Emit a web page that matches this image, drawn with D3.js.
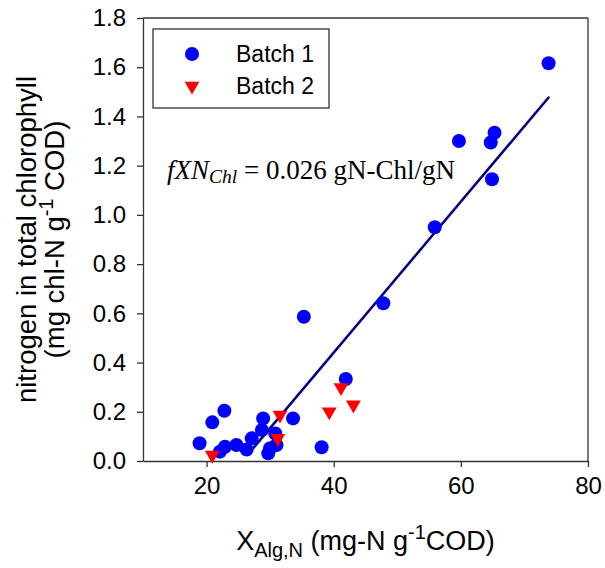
<!DOCTYPE html>
<html><head><meta charset="utf-8">
<script src="https://cdn.jsdelivr.net/npm/d3@7"></script>
<style>body{margin:0;background:#fff}svg{display:block}</style>
</head><body>
<svg id="c" width="605" height="568"></svg>
<script>
// Batch 1 (blue circles)
const batch1X = [73.8, 59.7, 65.3, 64.7, 64.9, 55.9, 47.8, 35.3, 41.9, 38.1,
  18.9, 20.9, 22.8, 22.1, 22.9, 24.7, 26.3, 27.1, 28.7, 28.9, 30.0, 30.8, 31.0, 33.6, 29.7];
const batch1Y = [1.616, 1.300, 1.334, 1.294, 1.145, 0.950, 0.641, 0.586, 0.333, 0.056,
  0.072, 0.157, 0.204, 0.038, 0.058, 0.065, 0.047, 0.092, 0.126, 0.173, 0.052, 0.112, 0.065, 0.173, 0.031];
// Batch 2 (red down-triangles)
const batch2X = [20.9, 31.55, 31.2, 39.3, 41.15, 43.1];
const batch2Y = [0.024, 0.187, 0.092, 0.200, 0.299, 0.228];
// Regression line endpoints
const fitX = [27.1, 73.9];
const fitY = [0.045, 1.48];
const xTicks = [20, 40, 60, 80];
const yTicks = [0, 0.2, 0.4, 0.6, 0.8, 1.0, 1.2, 1.4, 1.6, 1.8];
const legendLabels = ["Batch 1", "Batch 2"];

const svg = d3.select("#c");
const L = 143, R = 588, T = 18, B = 461;
const x = d3.scaleLinear().domain([10, 80]).range([L, R]);
const y = d3.scaleLinear().domain([0, 1.8]).range([B, T]);
const axisColor = "#333";
const sans = "Arial, 'Liberation Sans', sans-serif";

// frame top/right
svg.append("line").attr("x1", L).attr("x2", R).attr("y1", T).attr("y2", T).attr("stroke", axisColor).attr("stroke-width", 1.3);
svg.append("line").attr("x1", R).attr("x2", R).attr("y1", T).attr("y2", B).attr("stroke", axisColor).attr("stroke-width", 1.3);

const gx = svg.append("g").attr("transform", `translate(0,${B})`)
  .call(d3.axisBottom(x).tickValues(xTicks).tickSize(6).tickSizeOuter(0).tickPadding(10));
const gy = svg.append("g").attr("transform", `translate(${L},0)`)
  .call(d3.axisLeft(y).tickValues(yTicks).tickFormat(d3.format(".1f")).tickSize(6).tickSizeOuter(0).tickPadding(11));
[gx, gy].forEach(g => {
  g.selectAll("path, line").attr("stroke", axisColor).attr("stroke-width", 1.3);
  g.selectAll("text").attr("font-family", sans).attr("font-size", 24).attr("fill", "#000");
});

// fit line
svg.append("line")
  .attr("x1", x(fitX[0])).attr("y1", y(fitY[0]))
  .attr("x2", x(fitX[1])).attr("y2", y(fitY[1]))
  .attr("stroke", "#000080").attr("stroke-width", 2.5);

const tri = d3.symbol().type(d3.symbolTriangle).size(95);
// points
svg.append("g").selectAll("circle").data(batch1X.map((v, i) => [v, batch1Y[i]]))
  .join("circle").attr("cx", d => x(d[0])).attr("cy", d => y(d[1])).attr("r", 7).attr("fill", "#0000ff");
svg.append("g").selectAll("path").data(batch2X.map((v, i) => [v, batch2Y[i]]))
  .join("path").attr("d", tri)
  .attr("transform", d => `translate(${x(d[0])},${y(d[1])}) rotate(180)`).attr("fill", "#ff0000");

// legend
const lg = svg.append("g");
lg.append("rect").attr("x", 153).attr("y", 29).attr("width", 176).attr("height", 79)
  .attr("fill", "#fff").attr("stroke", axisColor).attr("stroke-width", 1.3);
lg.append("circle").attr("cx", 192).attr("cy", 54).attr("r", 7).attr("fill", "#0000ff");
lg.append("path").attr("d", tri).attr("transform", "translate(192,86) rotate(180)").attr("fill", "#ff0000");
lg.selectAll("text").data(legendLabels).join("text")
  .attr("x", 236).attr("y", (d, i) => 62 + i * 32)
  .attr("font-family", sans).attr("font-size", 23).text(d => d);

// annotation
const ann = svg.append("text").attr("x", 167).attr("y", 179)
  .attr("font-family", "'Times New Roman', 'Liberation Serif', serif").attr("font-size", 27);
ann.append("tspan").attr("font-style", "italic").text("fXN");
ann.append("tspan").attr("font-style", "italic").attr("font-size", 19.5).attr("dy", 4).text("Chl");
ann.append("tspan").attr("dy", -4).text(" = 0.026 gN-Chl/gN");

// x title
const xt = svg.append("text").attr("x", (L + R) / 2).attr("y", 550).attr("text-anchor", "middle")
  .attr("font-family", sans).attr("font-size", 27);
xt.append("tspan").text("X");
xt.append("tspan").attr("font-size", 20).attr("dy", 7).text("Alg,N");
xt.append("tspan").attr("dy", -7).text(" (mg-N g");
xt.append("tspan").attr("font-size", 20).attr("dy", -11).text("-1");
xt.append("tspan").attr("dy", 11).text("COD)");

// y title
const cy = (T + B) / 2;
const yt = svg.append("g").attr("transform", `translate(0,${cy}) rotate(-90)`);
yt.append("text").attr("x", 0).attr("y", 36).attr("text-anchor", "middle")
  .attr("font-family", sans).attr("font-size", 27.5).text("nitrogen in total chlorophyll");
const yt2 = yt.append("text").attr("x", 0).attr("y", 64).attr("text-anchor", "middle")
  .attr("font-family", sans).attr("font-size", 27.5);
yt2.append("tspan").text("(mg chl-N g");
yt2.append("tspan").attr("font-size", 20).attr("dy", -11).text("-1");
yt2.append("tspan").attr("dy", 11).text(" COD)");
</script>
</body></html>
